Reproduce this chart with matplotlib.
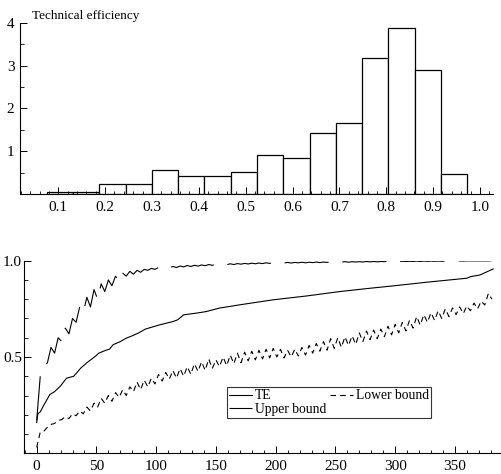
import numpy as np
import matplotlib
matplotlib.use("Agg")
import matplotlib.pyplot as plt
from matplotlib.ticker import MultipleLocator, FixedLocator

plt.rcParams['font.family'] = ['Liberation Serif', 'DejaVu Serif']
plt.rcParams['lines.scale_dashes'] = False

# histogram of technical efficiency (density)
bin_edges = [0.0752, 0.1313, 0.1874, 0.2435, 0.2996, 0.3557, 0.4118, 0.4679, 0.5240,
             0.5801, 0.6362, 0.6923, 0.7484, 0.8045, 0.8606, 0.9167, 0.9728]
density = [0.04, 0.04, 0.23, 0.23, 0.55, 0.41, 0.41, 0.51, 0.92, 0.83,
           1.43, 1.66, 3.18, 3.87, 2.90, 0.46]

# sorted TE (observation index, value)
te_idx = [0, 1, 3, 6, 11, 15, 20, 25, 31, 37, 42, 49, 52, 58, 61, 64, 70, 75, 80, 85,
          91, 103, 114, 118, 123, 134, 142, 153, 170, 198, 226, 254, 279, 298, 326,
          360, 363, 371, 382]
te_val = [0.16, 0.205, 0.215, 0.25, 0.305, 0.32, 0.35, 0.39, 0.40, 0.443, 0.47, 0.503,
          0.52, 0.535, 0.541, 0.564, 0.58, 0.598, 0.61, 0.624, 0.645, 0.667, 0.684,
          0.693, 0.719, 0.728, 0.736, 0.754, 0.771, 0.797, 0.817, 0.84, 0.857, 0.869,
          0.888, 0.909, 0.917, 0.926, 0.957]

# bounds, read every third observation
lower = [0.03, 0.11, 0.115, 0.135, 0.15, 0.155, 0.17, 0.175, 0.19, 0.18,
         0.205, 0.195, 0.22, 0.205, 0.24, 0.22, 0.26, 0.24, 0.285, 0.26,
         0.30, 0.27, 0.315, 0.29, 0.33, 0.30, 0.345, 0.32, 0.37, 0.33,
         0.38, 0.345, 0.39, 0.36, 0.41, 0.375, 0.42, 0.385, 0.43, 0.39,
         0.44, 0.40, 0.45, 0.41, 0.465, 0.425, 0.475, 0.43, 0.49, 0.44,
         0.485, 0.45, 0.50, 0.455, 0.51, 0.465, 0.52, 0.47, 0.525, 0.48,
         0.53, 0.485, 0.535, 0.49, 0.54, 0.495, 0.545, 0.50, 0.54, 0.495,
         0.535, 0.50, 0.54, 0.505, 0.55, 0.51, 0.56, 0.52, 0.57, 0.53,
         0.58, 0.535, 0.595, 0.545, 0.60, 0.55, 0.605, 0.56, 0.61, 0.565,
         0.625, 0.58, 0.635, 0.59, 0.64, 0.595, 0.645, 0.605, 0.66, 0.615,
         0.67, 0.625, 0.68, 0.635, 0.69, 0.65, 0.71, 0.665, 0.72, 0.68,
         0.73, 0.69, 0.74, 0.70, 0.75, 0.71, 0.755, 0.72, 0.76, 0.725,
         0.765, 0.74, 0.78, 0.75, 0.79, 0.77, 0.83, 0.80]
upper = [0.17, 0.40, 0.45, 0.47, 0.55, 0.52, 0.60, 0.58, 0.65, 0.62,
         0.70, 0.68, 0.76, 0.73, 0.81, 0.76, 0.85, 0.80, 0.88, 0.84,
         0.90, 0.87, 0.92, 0.89, 0.935, 0.92, 0.945, 0.93, 0.95, 0.94,
         0.955, 0.95, 0.96, 0.955, 0.965, 0.96, 0.968, 0.962, 0.97, 0.965,
         0.972, 0.968, 0.975, 0.97, 0.976, 0.972, 0.978, 0.974, 0.98, 0.976,
         0.981, 0.978, 0.983, 0.979, 0.984, 0.98, 0.985, 0.982, 0.986, 0.983,
         0.987, 0.984, 0.988, 0.985, 0.989, 0.986, 0.99, 0.987, 0.99, 0.988,
         0.991, 0.988, 0.991, 0.989, 0.992, 0.989, 0.992, 0.99, 0.993, 0.99,
         0.993, 0.991, 0.994, 0.991, 0.994, 0.992, 0.995, 0.992, 0.995, 0.993,
         0.995, 0.993, 0.996, 0.994, 0.996, 0.994, 0.996, 0.995, 0.997, 0.995,
         0.997, 0.995, 0.997, 0.996, 0.997, 0.996, 0.998, 0.996, 0.998, 0.997,
         0.998, 0.997, 0.998, 0.997, 0.998, 0.998, 0.999, 0.998, 0.999, 0.998,
         0.999, 0.999, 0.999, 0.999, 0.999, 0.999, 0.999, 1.0]
lower_idx = np.arange(0, 3 * len(lower), 3)
upper_idx = np.arange(0, 3 * len(upper), 3)

fig = plt.figure(figsize=(5.01, 4.74), dpi=100)
ax1 = fig.add_axes([0.0399, 0.5907, 0.944, 0.3614])
ax2 = fig.add_axes([0.0479, 0.0437, 0.950, 0.4063])

for ax in (ax1, ax2):
    for s in ('top', 'right'):
        ax.spines[s].set_visible(False)
    for s in ('left', 'bottom'):
        ax.spines[s].set_linewidth(0.8)
    ax.tick_params(axis='both', which='major', labelsize=11, width=0.7)
    ax.tick_params(axis='x', which='major', direction='in', length=5, pad=5)
    ax.tick_params(axis='x', which='minor', direction='in', length=2.5, width=0.6)
    ax.tick_params(axis='y', which='major', direction='in', length=5, pad=1.5)
    ax.tick_params(axis='y', which='minor', direction='in', length=3, width=0.6)

# top: histogram
widths = np.diff(bin_edges)
ax1.bar(bin_edges[:-1], density, width=widths, align='edge', facecolor='white',
        edgecolor='black', linewidth=0.9)
ax1.set_xlim(0.0183, 1.0277)
ax1.set_ylim(0, 4)
ax1.xaxis.set_major_locator(FixedLocator([0.1, 0.2, 0.3, 0.4, 0.5, 0.6, 0.7, 0.8, 0.9, 1.0]))
ax1.xaxis.set_minor_locator(MultipleLocator(0.02))
ax1.set_xticklabels(['0.1', '0.2', '0.3', '0.4', '0.5', '0.6', '0.7', '0.8', '0.9', '1.0'])
ax1.yaxis.set_major_locator(FixedLocator([1, 2, 3, 4]))
ax1.yaxis.set_minor_locator(MultipleLocator(0.5))
ax1.set_yticklabels(['1', '2', '3', '4'])
ax1.tick_params(axis='y', which='major', pad=4)
fig.text(32 / 501, 1 - 19 / 474, 'Technical efficiency', fontsize=9.5, ha='left',
         va='baseline')

# bottom: TE with bounds
ax2.plot(te_idx, te_val, color='black', lw=0.8, label='TE')
ax2.plot(upper_idx, upper, color='black', lw=0.8, dashes=(32, 10), label='Upper bound')
ax2.plot(lower_idx, lower, color='black', lw=0.8, dashes=(4, 3), label='Lower bound')
ax2.set_xlim(-10.6, 387.7)
ax2.set_ylim(0.0, 1.0)
ax2.xaxis.set_major_locator(MultipleLocator(50))
ax2.xaxis.set_minor_locator(MultipleLocator(10))
ax2.yaxis.set_major_locator(FixedLocator([0.5, 1.0]))
ax2.yaxis.set_minor_locator(MultipleLocator(0.1))
ax2.set_yticklabels(['0.5', '1.0'])

leg = ax2.legend(loc='upper left', bbox_to_anchor=(0.426, 0.343), borderaxespad=0,
                 ncol=2, fontsize=9.8, frameon=True, fancybox=False,
                 handlelength=1.7, handletextpad=0.2, labelspacing=0.05,
                 borderpad=0.15, columnspacing=0.3)
leg.get_frame().set_edgecolor('black')
leg.get_frame().set_linewidth(0.8)

fig.savefig('out.png', dpi=100)
